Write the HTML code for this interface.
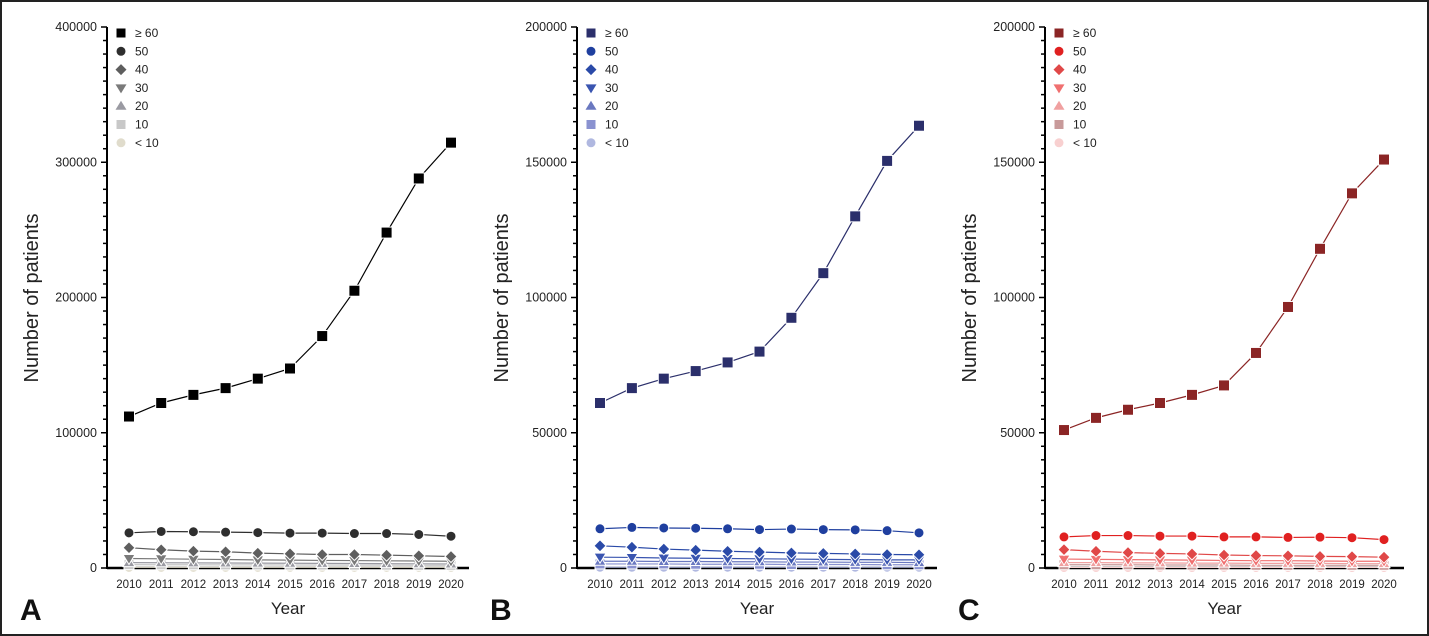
<!DOCTYPE html>
<html><head><meta charset="utf-8"><style>
html,body{margin:0;padding:0;background:#fff}
svg{display:block;font-family:"Liberation Sans",sans-serif}
</style></head><body>
<svg id="s" width="1429" height="636" viewBox="0 0 1429 636" xmlns="http://www.w3.org/2000/svg">
<rect x="1" y="1" width="1427" height="634" fill="#fff" stroke="#222" stroke-width="2"/>
</svg>
<script>
const S=document.getElementById('s');const NS='http://www.w3.org/2000/svg';
function el(t,a,txt){const e=document.createElementNS(NS,t);for(const k in a)e.setAttribute(k,a[k]);if(txt!==undefined)e.textContent=txt;S.appendChild(e);return e;}
const Y0=568,Y1=27;
const panels=[
{ax:107,x0:129,x1:451,xe:469,max:400000,minor:10000,major:100000,letter:'A',lx:20,
cols:['#000','#2e2e2e','#5e5e5e','#7a7a7a','#9a9aa2','#c8c8c8','#e0dccc'],
data:[[112000,122000,128000,133000,140000,147500,171500,205000,248000,288000,314500],
[26000,27000,26800,26500,26200,25800,25800,25500,25500,24800,23500],
[15000,13500,12500,12000,11000,10500,10000,10000,9500,9000,8500],
[7000,6800,6500,6300,6000,5800,5600,5500,5300,5200,5000],
[4000,3900,3800,3700,3600,3500,3400,3300,3200,3100,3000],
[2500,2400,2400,2300,2300,2200,2200,2100,2100,2000,2000],
[500,500,500,500,500,500,500,500,500,500,500]]},
{ax:577,x0:600,x1:919,xe:937,max:200000,minor:5000,major:50000,letter:'B',lx:490,
cols:['#2b2f6b','#1f3f9f','#2a4aa8','#3a55b0','#6a78c0','#8a92d0','#b0b8e0'],
data:[[61000,66500,70000,72800,76000,80000,92500,109000,130000,150500,163500],
[14500,15000,14800,14700,14500,14200,14400,14200,14100,13800,13000],
[8200,7700,7000,6600,6200,5900,5600,5400,5200,5000,4900],
[4000,3900,3700,3600,3500,3400,3300,3200,3100,3000,3000],
[2500,2500,2400,2400,2300,2300,2200,2200,2100,2100,2000],
[1500,1500,1500,1400,1400,1400,1300,1300,1300,1200,1200],
[300,300,300,300,300,300,300,300,300,300,300]]},
{ax:1045,x0:1064,x1:1384,xe:1404,max:200000,minor:5000,major:50000,letter:'C',lx:958,
cols:['#8b2525','#e02020','#e04848','#f07070','#f0a0a0','#c89a9a','#f8d0d0'],
data:[[51000,55500,58500,61000,64000,67500,79500,96500,118000,138500,151000],
[11500,12000,12000,11800,11800,11500,11500,11300,11400,11200,10500],
[6800,6200,5700,5400,5200,4800,4600,4500,4300,4200,4000],
[3300,3200,3100,3000,2900,2800,2700,2700,2600,2500,2500],
[2000,2000,1900,1900,1800,1800,1700,1700,1700,1600,1600],
[1200,1200,1200,1100,1100,1100,1000,1000,1000,1000,1000],
[200,200,200,200,200,200,200,200,200,200,200]]}];
const labels=['≥ 60','50','40','30','20','10','< 10'];
function marker(k,x,y,c,s,ol){s=s||5;const o=ol?{stroke:'#fff','stroke-width':1}:{};
 const A=(a)=>Object.assign(a,o);
 if(k==0||k==5) el('rect',A({x:x-s,y:y-s,width:2*s,height:2*s,fill:c}));
 else if(k==1||k==6) el('circle',A({cx:x,cy:y,r:s,fill:c}));
 else if(k==2) el('polygon',A({points:`${x},${y-s-1} ${x+s+1},${y} ${x},${y+s+1} ${x-s-1},${y}`,fill:c}));
 else if(k==3) el('polygon',A({points:`${x-s-1},${y-s+1} ${x+s+1},${y-s+1} ${x},${y+s+1}`,fill:c}));
 else el('polygon',A({points:`${x-s-1},${y+s-1} ${x+s+1},${y+s-1} ${x},${y-s-1}`,fill:c}));
}
panels.forEach(p=>{
 const yy=v=>Y0-(v/p.max)*(Y0-Y1);
 const xx=i=>p.x0+i*(p.x1-p.x0)/10;
 el('line',{x1:p.ax,y1:Y1,x2:p.ax,y2:Y0+1,stroke:'#000','stroke-width':2});
 el('line',{x1:p.ax,y1:Y0,x2:p.xe,y2:Y0,stroke:'#000','stroke-width':2.5});
 for(let v=0;v<=p.max;v+=p.minor){const y=yy(v);const maj=v%p.major==0;
  el('line',{x1:p.ax-(maj?6:4),y1:y,x2:p.ax,y2:y,stroke:'#000','stroke-width':1.5});
  if(maj) el('text',{x:p.ax-10,y:y+4,'font-size':12.5,'text-anchor':'end',fill:'#222'},String(v));}
 for(let i=0;i<11;i++) el('text',{x:xx(i),y:588,'font-size':11.5,'text-anchor':'middle',fill:'#222'},String(2010+i));
 el('text',{x:(p.ax+p.xe)/2,y:614,'font-size':17,'text-anchor':'middle',fill:'#222'},'Year');
 el('text',{x:0,y:0,'font-size':20,'text-anchor':'middle',fill:'#222',transform:`translate(${p.ax-69},298) rotate(-90)`},'Number of patients');
 el('text',{x:p.lx,y:620,'font-size':30,'font-weight':'bold',fill:'#111'},p.letter);
 for(let k=6;k>=0;k--){const c=p.cols[k];const d=p.data[k];
  el('polyline',{points:d.map((v,i)=>xx(i)+','+yy(v)).join(' '),fill:'none',stroke:c,'stroke-width':1.2});
  d.forEach((v,i)=>marker(k,xx(i),yy(v),c,k==0?5.5:5,true));}
 labels.forEach((l,k)=>{const y=33+k*18.3;marker(k,p.ax+14,y,p.cols[k],4.5,false);
  el('text',{x:p.ax+28,y:y+4,'font-size':12,fill:'#222'},l);});
});
</script>
</body></html>
